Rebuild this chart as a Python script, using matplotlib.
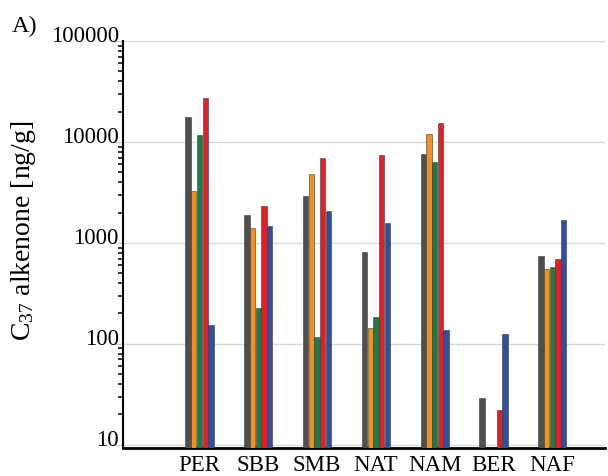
import numpy as np
import matplotlib
matplotlib.use("Agg")
import matplotlib.pyplot as plt
from matplotlib.ticker import LogLocator, NullFormatter

plt.rcParams['font.family'] = ['Liberation Serif', 'DejaVu Serif']
plt.rcParams['mathtext.fontset'] = 'custom'
plt.rcParams['mathtext.rm'] = 'Liberation Serif'
plt.rcParams['mathtext.it'] = 'Liberation Serif'

regions = ["PER", "SBB", "SMB", "NAT", "NAM", "BER", "NAF"]

# C37 alkenone concentration per region, five series (nan = not measured)
series_gray = [17800, 1900, 2900, 820, 7650, 29, 740]
series_orange = [3270, 1400, 4800, 145, 12000, np.nan, 553]
series_green = [11700, 224, 118, 186, 6400, np.nan, 575]
series_red = [27300, 2320, 7000, 7400, 15300, 22, 690]
series_blue = [155, 1460, 2060, 1580, 136, 126, 1700]

ytick_values = [10, 100, 1000, 10000, 100000]
ytick_labels = ["10", "100", "1000", "10000", "100000"]

series = [series_gray, series_orange, series_green, series_red, series_blue]
colors = ["#4f4f4f", "#f39019", "#1e7b45", "#e02027", "#2f4fa0"]

fig = plt.figure(figsize=(6.08, 4.77), dpi=100)
ax = fig.add_axes([0.2023, 0.0587, 0.7927, 0.8533])

x = np.arange(len(regions))
pitch = 0.097
width = 0.09
for k, (vals, c) in enumerate(zip(series, colors)):
    ax.bar(x + (k - 2) * pitch, vals, width=width, color=c,
           edgecolor="#3a3a3a", linewidth=0.4, zorder=3)

ax.set_yscale("log")
ax.set_ylim(9.3, 100000)
ax.set_xlim(-1.30, 6.895)

ax.set_yticks(ytick_values)
ax.set_yticklabels(ytick_labels, fontsize=16.5)
for lab in ax.get_yticklabels():
    lab.set_verticalalignment("baseline")
ax.yaxis.set_minor_locator(LogLocator(base=10, subs=np.arange(2, 10)))
ax.yaxis.set_minor_formatter(NullFormatter())
ax.tick_params(axis="y", which="major", length=7, width=1, color="#d0d0d0",
               pad=-4)
ax.tick_params(axis="y", which="minor", length=3.6, width=1.1, color="black")

ax.set_xticks(x)
ax.set_xticklabels(regions, fontsize=16.5)
ax.tick_params(axis="x", length=0, pad=4)

ax.grid(axis="y", which="major", color="#d9d9d9", linewidth=1, zorder=0)

for side in ("top", "right"):
    ax.spines[side].set_visible(False)
ax.spines["left"].set_linewidth(1.5)
ax.spines["bottom"].set_linewidth(2)

fig.text(24 / 608, 1 - 231 / 477, r"C$_{\mathrm{37}}$ alkenone [ng/g]",
         fontsize=20, rotation=90, ha="center", va="center")
fig.text(0.02, 0.932, "A)", fontsize=17.5)

fig.savefig("out.png", dpi=100)
